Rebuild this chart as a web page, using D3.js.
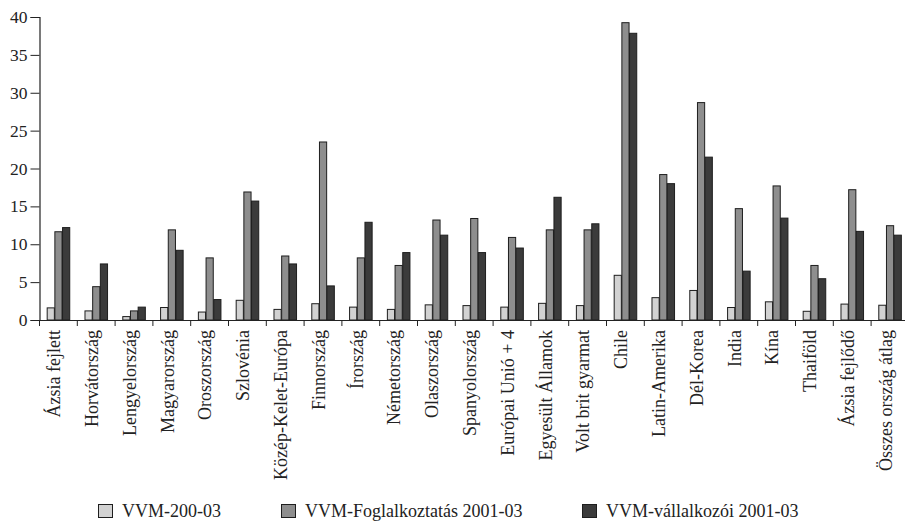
<!DOCTYPE html>
<html><head><meta charset="utf-8">
<script src="https://cdn.jsdelivr.net/npm/d3@7"></script>
<style>
body{margin:0;background:#fff;}
svg{display:block;}
text{font-family:"Liberation Serif","Times New Roman",serif;fill:#222;}
</style></head>
<body><svg id="chart" width="905" height="522"></svg>
<script>
const categories = ["Ázsia fejlett","Horvátország","Lengyelország","Magyarország","Oroszország","Szlovénia","Közép-Kelet-Európa","Finnország","Írország","Németország","Olaszország","Spanyolország","Európai Unió + 4","Egyesült Államok","Volt brit gyarmat","Chile","Latin-Amerika","Dél-Korea","India","Kína","Thaiföld","Ázsia fejlődő","Összes ország átlag"];
const seriesNames = ["VVM-200-03","VVM-Foglalkoztatás 2001-03","VVM-vállalkozói 2001-03"];
const vvm200 = [1.6,1.2,0.45,1.65,1.05,2.6,1.4,2.15,1.7,1.4,2.0,1.9,1.7,2.2,1.9,5.9,2.95,3.9,1.65,2.4,1.15,2.1,1.95];
const vvmFogl = [11.65,4.4,1.2,11.9,8.2,16.9,8.45,23.5,8.2,7.2,13.2,13.4,10.9,11.9,11.9,39.25,19.2,28.7,14.7,17.7,7.2,17.2,12.45];
const vvmVall = [12.2,7.4,1.7,9.2,2.7,15.7,7.4,4.5,12.9,8.9,11.2,8.9,9.5,16.2,12.7,37.85,18.0,21.5,6.45,13.45,5.45,11.7,11.2];
const yTicks = [0,5,10,15,20,25,30,35,40];
const colors = ["#d2d2d2","#8e8e8e","#3b3b3b"];

(function(){
const svg = d3.select("#chart");
const mLeft = 39.5, mTop = 17, mBottom = 320;
const step = 37.8;
const x0 = d3.scaleBand().domain(categories).range([mLeft, mLeft + step*categories.length]).padding(0);
const bw = x0.bandwidth();
const x1 = d3.scaleBand().domain(seriesNames).range([bw*0.19, bw*0.80]).padding(0);
const y = d3.scaleLinear().domain([0,40]).range([mBottom, mTop]);

const allSeries = [vvm200, vvmFogl, vvmVall];
const rows = categories.map((c,i)=>({c, vals: seriesNames.map((s,j)=>({s, v: allSeries[j][i], k:j}))}));

const g = svg.append("g");
g.selectAll("g.grp").data(rows).join("g").attr("class","grp")
  .attr("transform", d=>`translate(${x0(d.c)},0)`)
  .selectAll("rect").data(d=>d.vals).join("rect")
  .attr("x", d=>x1(d.s)+0.5).attr("width", x1.bandwidth()-0.5)
  .attr("y", d=>y(d.v)).attr("height", d=>y(0)-y(d.v))
  .attr("fill", d=>colors[d.k]).attr("stroke","#1e1e1e").attr("stroke-width",1);

const ya = svg.append("g").attr("transform",`translate(${mLeft},0)`)
  .call(d3.axisLeft(y).tickValues(yTicks).tickSize(9).tickPadding(3));
ya.select(".domain").attr("stroke","#222").attr("stroke-width",1.2);
ya.selectAll(".tick line").attr("stroke","#222");
ya.selectAll(".tick text").style("font-size","17.5px").style("font-family","Liberation Serif").attr("fill","#222");

svg.append("line").attr("x1",mLeft).attr("x2",905).attr("y1",mBottom+0.5).attr("y2",mBottom+0.5).attr("stroke","#222").attr("stroke-width",1.2);
const bounds = categories.map(c=>x0(c));
svg.selectAll("line.bt").data(bounds).join("line").attr("class","bt")
  .attr("x1",d=>d).attr("x2",d=>d).attr("y1",mBottom).attr("y2",mBottom+6).attr("stroke","#222");
svg.selectAll("text.xl").data(categories).join("text").attr("class","xl")
  .attr("transform", d=>`translate(${x0(d)+bw/2+1.8},${mBottom+10}) rotate(-90)`)
  .attr("text-anchor","end").style("font-size","18px").text(d=>d);

const legX = [98, 281, 582];
const lg = svg.selectAll("g.leg").data(seriesNames).join("g").attr("class","leg")
  .attr("transform",(d,i)=>`translate(${legX[i]},504)`);
lg.append("rect").attr("x",0.5).attr("y",0.5).attr("width",14).attr("height",13)
  .attr("fill",(d,i)=>colors[i]).attr("stroke","#1e1e1e");
lg.append("text").attr("x",24).attr("y",13).style("font-size","18px").text(d=>d);
})();
</script></body></html>
